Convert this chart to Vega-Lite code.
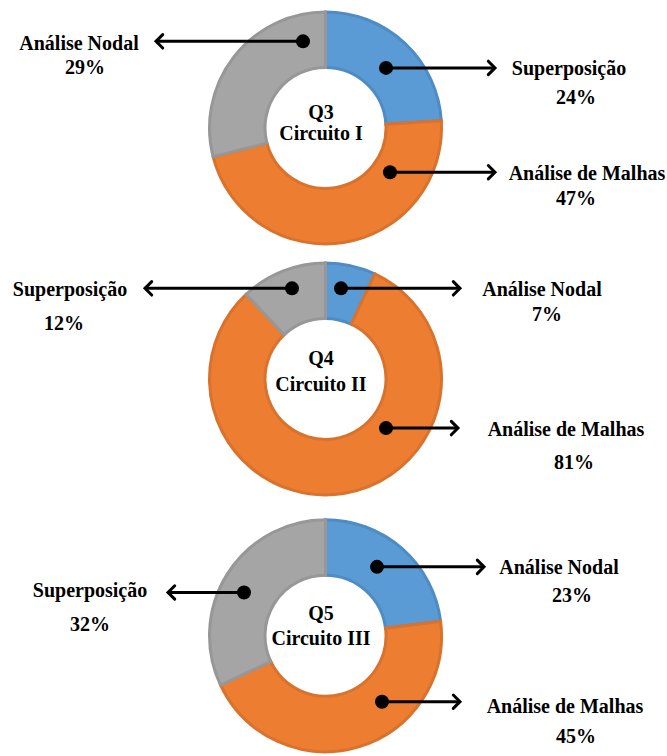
{
  "$schema": "https://vega.github.io/schema/vega-lite/v6.json",
  "autosize": {"type": "fit", "contains": "padding"},
  "width": 667,
  "height": 756,
  "padding": 0,
  "background": "white",
  "config": {"view": {"stroke": null}},
  "datasets": {
    "fatias": [
      {"q": "Q3", "metodo": "Superposição", "pct": 24, "ordem": 1},
      {"q": "Q3", "metodo": "Análise de Malhas", "pct": 47, "ordem": 2},
      {"q": "Q3", "metodo": "Análise Nodal", "pct": 29, "ordem": 3},
      {"q": "Q4", "metodo": "Análise Nodal", "pct": 7, "ordem": 1},
      {"q": "Q4", "metodo": "Análise de Malhas", "pct": 81, "ordem": 2},
      {"q": "Q4", "metodo": "Superposição", "pct": 12, "ordem": 3},
      {"q": "Q5", "metodo": "Análise Nodal", "pct": 23, "ordem": 1},
      {"q": "Q5", "metodo": "Análise de Malhas", "pct": 45, "ordem": 2},
      {"q": "Q5", "metodo": "Superposição", "pct": 32, "ordem": 3}
    ],
    "setas": [
      {"q": "Q3", "metodo": "Análise Nodal", "px": 303, "py": 42, "ax": 156, "lado": "esquerda"},
      {"q": "Q3", "metodo": "Superposição", "px": 386, "py": 69, "ax": 495, "lado": "direita"},
      {"q": "Q3", "metodo": "Análise de Malhas", "px": 390, "py": 175, "ax": 495, "lado": "direita"},
      {"q": "Q4", "metodo": "Superposição", "px": 292, "py": 293, "ax": 145, "lado": "esquerda"},
      {"q": "Q4", "metodo": "Análise Nodal", "px": 341, "py": 293, "ax": 460, "lado": "direita"},
      {"q": "Q4", "metodo": "Análise de Malhas", "px": 386, "py": 435, "ax": 458, "lado": "direita"},
      {"q": "Q5", "metodo": "Superposição", "px": 244, "py": 602, "ax": 168, "lado": "esquerda"},
      {"q": "Q5", "metodo": "Análise Nodal", "px": 377, "py": 576, "ax": 484, "lado": "direita"},
      {"q": "Q5", "metodo": "Análise de Malhas", "px": 382, "py": 713, "ax": 460, "lado": "direita"}
    ],
    "textos": [
      {"texto": "Q3", "x": 321, "y": 113},
      {"texto": "Circuito I", "x": 321, "y": 134},
      {"texto": "Q4", "x": 321, "y": 363},
      {"texto": "Circuito II", "x": 321, "y": 389},
      {"texto": "Q5", "x": 321, "y": 622},
      {"texto": "Circuito III", "x": 321, "y": 647},
      {"texto": "Análise Nodal", "x": 79, "y": 43},
      {"texto": "29%", "x": 85, "y": 67},
      {"texto": "Superposição", "x": 569, "y": 68},
      {"texto": "24%", "x": 576, "y": 98},
      {"texto": "Análise de Malhas", "x": 587, "y": 175},
      {"texto": "47%", "x": 576, "y": 200},
      {"texto": "Superposição", "x": 70, "y": 293},
      {"texto": "12%", "x": 64, "y": 327},
      {"texto": "Análise Nodal", "x": 542, "y": 293},
      {"texto": "7%", "x": 547, "y": 318},
      {"texto": "Análise de Malhas", "x": 566, "y": 435},
      {"texto": "81%", "x": 574, "y": 468},
      {"texto": "Superposição", "x": 90, "y": 598},
      {"texto": "32%", "x": 90, "y": 633},
      {"texto": "Análise Nodal", "x": 559, "y": 575},
      {"texto": "23%", "x": 572, "y": 604},
      {"texto": "Análise de Malhas", "x": 565, "y": 716},
      {"texto": "45%", "x": 576, "y": 747}
    ]
  },
  "encoding": {},
  "layer": [
    {
      "data": {"name": "fatias"},
      "transform": [{"filter": "datum.q === 'Q3'"}],
      "mark": {"type": "arc", "radius": 116, "radius2": 60.5, "strokeWidth": 3},
      "encoding": {
        "x": {"datum": 325.5, "type": "quantitative", "scale": {"domain": [0, 667], "nice": false, "zero": false}, "axis": null},
        "y": {"datum": 130, "type": "quantitative", "scale": {"domain": [0, 756], "nice": false, "zero": false, "reverse": true}, "axis": null},
        "theta": {"field": "pct", "type": "quantitative", "stack": true},
        "order": {"field": "ordem"},
        "color": {"field": "ordem", "type": "nominal", "scale": {"domain": [1, 2, 3], "range": ["#5b9bd5", "#ed7d31", "#a5a5a5"]}, "legend": null},
        "stroke": {"field": "ordem", "type": "nominal", "scale": {"domain": [1, 2, 3], "range": ["#4f8bc4", "#d8722d", "#979797"]}, "legend": null}
      }
    },
    {
      "data": {"name": "fatias"},
      "transform": [{"filter": "datum.q === 'Q4'"}],
      "mark": {"type": "arc", "radius": 116, "radius2": 60.5, "strokeWidth": 3},
      "encoding": {
        "x": {"datum": 325.5, "type": "quantitative"},
        "y": {"datum": 385, "type": "quantitative"},
        "theta": {"field": "pct", "type": "quantitative", "stack": true},
        "order": {"field": "ordem"},
        "color": {"field": "ordem", "type": "nominal", "legend": null},
        "stroke": {"field": "ordem", "type": "nominal", "legend": null}
      }
    },
    {
      "data": {"name": "fatias"},
      "transform": [{"filter": "datum.q === 'Q5'"}],
      "mark": {"type": "arc", "radius": 116, "radius2": 60.5, "strokeWidth": 3},
      "encoding": {
        "x": {"datum": 325.5, "type": "quantitative"},
        "y": {"datum": 646, "type": "quantitative"},
        "theta": {"field": "pct", "type": "quantitative", "stack": true},
        "order": {"field": "ordem"},
        "color": {"field": "ordem", "type": "nominal", "legend": null},
        "stroke": {"field": "ordem", "type": "nominal", "legend": null}
      }
    },
    {
      "data": {"name": "setas"},
      "mark": {"type": "rule", "color": "black", "strokeWidth": 3},
      "encoding": {
        "x": {"field": "px", "type": "quantitative"},
        "x2": {"field": "ax"},
        "y": {"field": "py", "type": "quantitative"}
      }
    },
    {
      "data": {"name": "setas"},
      "mark": {"type": "point", "filled": true, "color": "black", "opacity": 1, "size": 196, "shape": "circle"},
      "encoding": {
        "x": {"field": "px", "type": "quantitative"},
        "y": {"field": "py", "type": "quantitative"}
      }
    },
    {
      "data": {"name": "setas"},
      "mark": {"type": "point", "filled": false, "stroke": "black", "opacity": 1, "strokeWidth": 3, "size": 180, "strokeCap": "round", "strokeJoin": "miter"},
      "encoding": {
        "x": {"field": "ax", "type": "quantitative"},
        "y": {"field": "py", "type": "quantitative"},
        "shape": {"field": "lado", "type": "nominal", "scale": {"domain": ["esquerda", "direita"], "range": ["M1,-1L0,0L1,1", "M-1,-1L0,0L-1,1"]}, "legend": null}
      }
    },
    {
      "data": {"name": "textos"},
      "mark": {"type": "text", "color": "black", "align": "center", "baseline": "middle", "dy": 2, "font": "Liberation Serif", "fontWeight": "bold", "fontSize": 20},
      "encoding": {
        "x": {"field": "x", "type": "quantitative"},
        "y": {"field": "y", "type": "quantitative"},
        "text": {"field": "texto"}
      }
    }
  ]
}
